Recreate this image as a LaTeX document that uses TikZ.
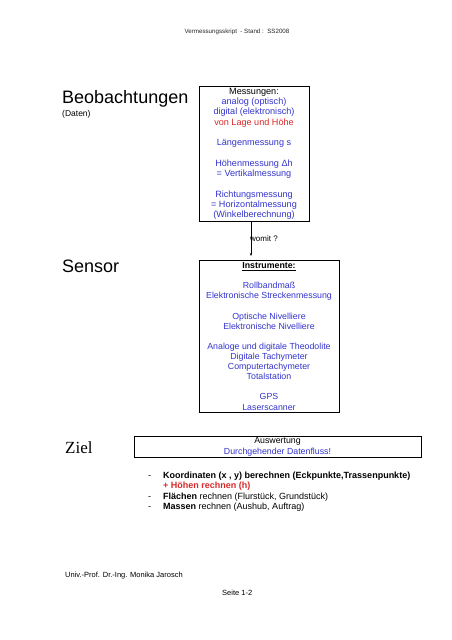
\documentclass[tikz,border=0pt]{standalone}
\usepackage{fontspec}
\setmainfont{Liberation Sans}
\newfontfamily\zielfont{Liberation Serif}
\usetikzlibrary{arrows.meta}
\definecolor{tblue}{RGB}{51,51,204}
\definecolor{tred}{RGB}{215,40,40}
\begin{document}
\begin{tikzpicture}[x=1pt,y=-1pt,
  box/.style={draw, line width=0.7pt, inner sep=0pt, align=center},
  bigtitle/.style={anchor=base west, inner sep=0pt, font=\fontsize{18}{20}\selectfont},
  small/.style={anchor=base west, inner sep=0pt, font=\fontsize{7.5}{9}\selectfont},
  bullet/.style={anchor=base west, inner sep=0pt, font=\fontsize{9}{10}\selectfont},
  conn/.style={-{Stealth[length=3pt,width=2.4pt]}, line width=0.5pt}]
\useasboundingbox (0,0) rectangle (452,640);

\node[anchor=base, inner sep=0pt, font=\fontsize{6.2}{7}\selectfont, text=black!85] (hdr) at (237,33) {Vermessungsskript\ \ - Stand :\ \ SS2008};

\node[bigtitle] (beob) at (62,103) {Beobachtungen};
\node[anchor=base west, inner sep=0pt, font=\fontsize{8.5}{10}\selectfont] (daten) at (62,116) {(Daten)};

\node[box, minimum width=110, minimum height=135, anchor=north, font=\fontsize{9.1}{10.3}\selectfont] (mess) at (254,86) {%
Messungen:\\
\textcolor{tblue}{analog (optisch)}\\
\textcolor{tblue}{digital (elektronisch)}\\
\textcolor{tred}{von Lage und Höhe}\\[10.3pt]
\textcolor{tblue}{Längenmessung s}\\[10.3pt]
\textcolor{tblue}{Höhenmessung Δh}\\
\textcolor{tblue}{= Vertikalmessung}\\[10.3pt]
\textcolor{tblue}{Richtungsmessung}\\
\textcolor{tblue}{= Horizontalmessung}\\
\textcolor{tblue}{(Winkelberechnung)}};

\node[bigtitle] (sensor) at (62,272) {Sensor};

\node[box, minimum width=140, minimum height=152, anchor=north, font=\fontsize{8.8}{10.1}\selectfont] (instr) at (269,260) {%
\underline{\textbf{Instrumente:}}\\[10.1pt]
\textcolor{tblue}{Rollbandmaß}\\
\textcolor{tblue}{Elektronische Streckenmessung}\\[10.1pt]
\textcolor{tblue}{Optische Nivelliere}\\
\textcolor{tblue}{Elektronische Nivelliere}\\[10.1pt]
\textcolor{tblue}{Analoge und digitale Theodolite}\\
\textcolor{tblue}{Digitale Tachymeter}\\
\textcolor{tblue}{Computertachymeter}\\
\textcolor{tblue}{Totalstation}\\[10.1pt]
\textcolor{tblue}{GPS}\\
\textcolor{tblue}{Laserscanner}};

\draw[conn] ([xshift=-3pt]mess.south) -- ([xshift=-3pt,yshift=4pt]mess.south |- instr.north);
\node[anchor=west, inner sep=0pt, font=\fontsize{8}{9}\selectfont] (womit) at (250,239) {womit ?};

\node[anchor=base west, inner sep=0pt, font=\zielfont\fontsize{17}{20}\selectfont] (ziel) at (65,453) {Ziel};

\node[box, minimum width=287, minimum height=21, anchor=north, font=\fontsize{8.8}{10.2}\selectfont] (ausw) at (277.5,436) {%
Auswertung\\
\textcolor{tblue}{Durchgehender Datenfluss!}};

\node[bullet] (d1) at (148,478) {-};
\node[bullet] (b1) at (163,478) {\textbf{Koordinaten (x , y) berechnen (Eckpunkte,Trassenpunkte)}};
\node[bullet] (b2) at (163,488.5) {\textcolor{tred}{\textbf{+ Höhen rechnen (h)}}};
\node[bullet] (d3) at (148,499) {-};
\node[bullet] (b3) at (163,499) {\textbf{Flächen} rechnen (Flurstück, Grundstück)};
\node[bullet] (d4) at (148,509.5) {-};
\node[bullet] (b4) at (163,509.5) {\textbf{Massen} rechnen (Aushub, Auftrag)};

\node[small] (autor) at (65,577) {Univ.-Prof. Dr.-Ing. Monika Jarosch};
\node[small] (seite) at (222,595) {Seite 1-2};
\end{tikzpicture}
\end{document}
